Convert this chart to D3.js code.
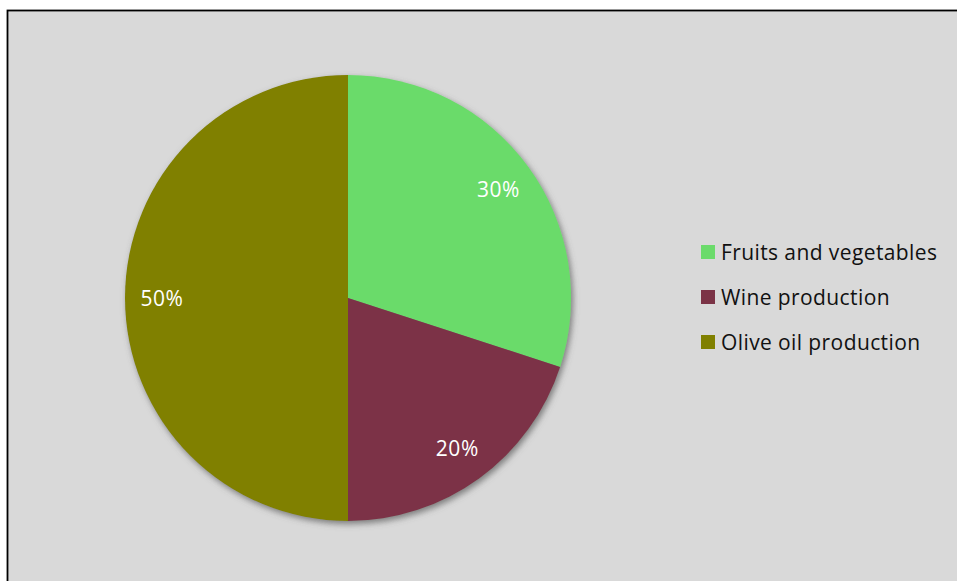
<!DOCTYPE html>
<html><head><meta charset="utf-8">
<script src="https://cdn.jsdelivr.net/npm/d3@7"></script>
<style>html,body{margin:0;padding:0;background:#fff;overflow:hidden}</style>
</head><body>
<script>
const categories = ["Fruits and vegetables", "Wine production", "Olive oil production"];
const values = [30, 20, 50];
const colors = ["#6bdb6b", "#7b3346", "#808000"];

const W = 957, H = 581;
const svg = d3.select("body").append("svg").attr("width", W).attr("height", H);
svg.append("rect").attr("x", 7.5).attr("y", 10.5).attr("width", W + 10).attr("height", H + 10)
  .attr("fill", "#d9d9d9").attr("stroke", "#000").attr("stroke-width", 1.8);

const defs = svg.append("defs");
const f = defs.append("filter").attr("id", "sh").attr("x", "-20%").attr("y", "-20%").attr("width", "140%").attr("height", "140%");
f.append("feDropShadow").attr("dx", 2).attr("dy", 3).attr("stdDeviation", 3)
  .attr("flood-color", "#555").attr("flood-opacity", 0.7);

const cx = 348, cy = 298, r = 223;
const pie = d3.pie().sort(null).value(d => d)(values);
const arc = d3.arc().innerRadius(0).outerRadius(r);
const labelArc = d3.arc().innerRadius(186).outerRadius(186);
const totalV = d3.sum(values);

const g = svg.append("g").attr("transform", `translate(${cx},${cy})`);
g.append("g").attr("filter", "url(#sh)").selectAll("path").data(pie).join("path")
  .attr("d", arc).attr("fill", (d, i) => colors[i]);
g.selectAll("text").data(pie).join("text")
  .attr("transform", d => `translate(${labelArc.centroid(d)})`)
  .attr("text-anchor", "middle").attr("dominant-baseline", "central")
  .attr("fill", "#fff").attr("font-family", "Open Sans, sans-serif").attr("font-size", 21)
  .attr("letter-spacing", 0.6)
  .text(d => Math.round(d.value / totalV * 100) + "%");

const leg = svg.append("g");
const y = d3.scalePoint().domain(categories).range([252, 342]);
const items = leg.selectAll("g").data(categories).join("g")
  .attr("transform", d => `translate(701,${y(d)})`);
items.append("rect").attr("x", 0).attr("y", -7).attr("width", 14).attr("height", 14)
  .attr("fill", (d, i) => colors[i]);
items.append("text").attr("x", 20).attr("y", 0).attr("dominant-baseline", "central")
  .attr("font-family", "Open Sans, sans-serif").attr("font-size", 21).attr("fill", "#111")
  .attr("letter-spacing", 0.4)
  .text(d => d);
</script>
</body></html>
